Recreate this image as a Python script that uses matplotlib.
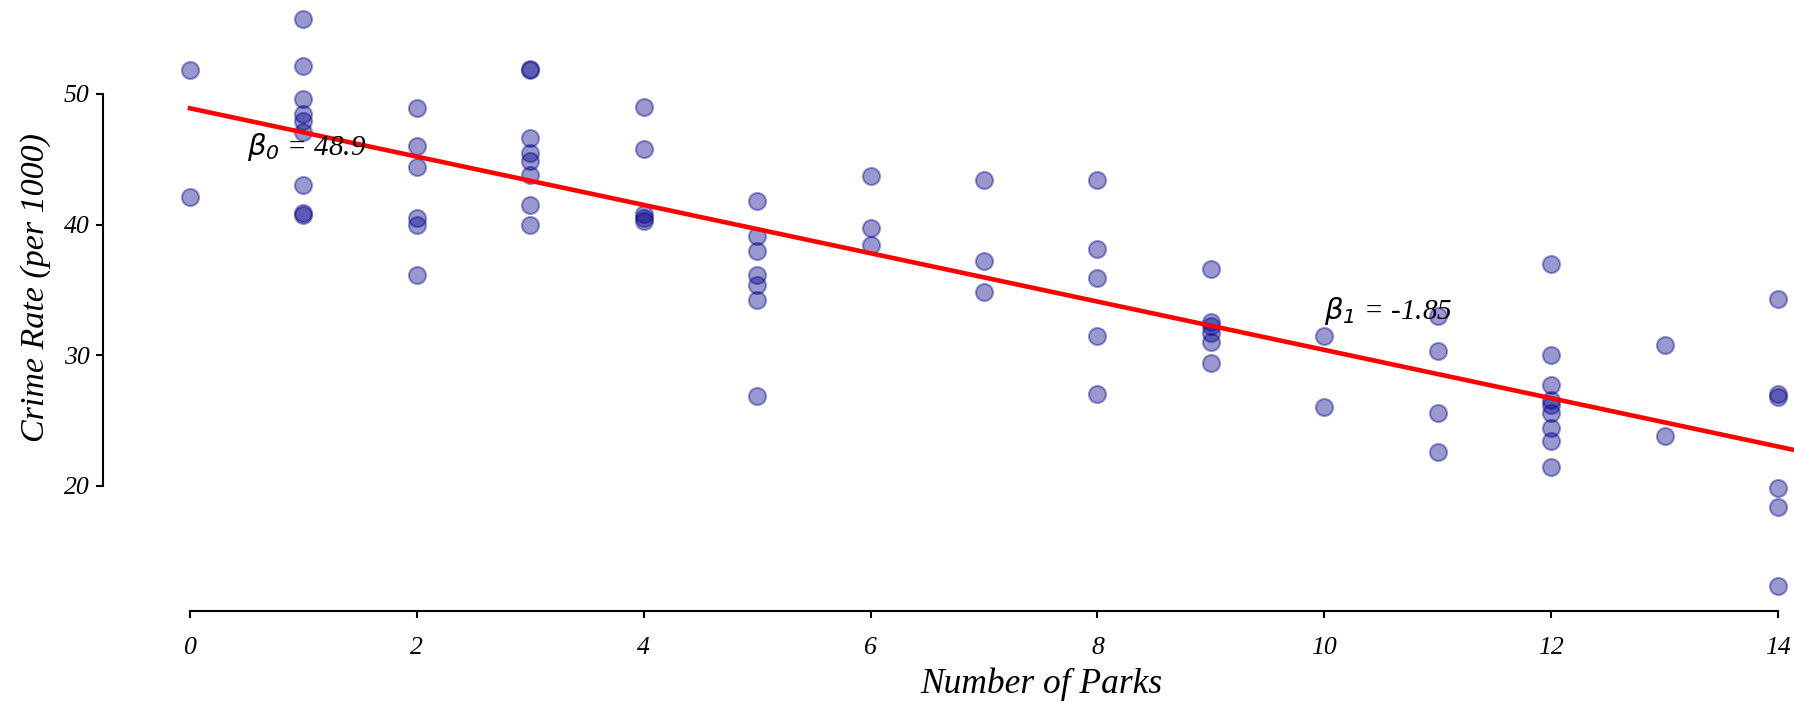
import matplotlib
matplotlib.use('Agg')
import matplotlib.pyplot as plt
import numpy as np

# parks vs crime rate
parks = [0, 0,
         1, 1, 1, 1, 1, 1, 1, 1, 1,
         2, 2, 2, 2, 2, 2,
         3, 3, 3, 3, 3, 3, 3, 3,
         4, 4, 4, 4, 4,
         5, 5, 5, 5, 5, 5, 5,
         6, 6, 6,
         7, 7, 7,
         8, 8, 8, 8, 8,
         9, 9, 9, 9, 9, 9,
         10, 10,
         11, 11, 11, 11,
         12, 12, 12, 12, 12, 12, 12, 12, 12,
         13, 13,
         14, 14, 14, 14, 14, 14]
crime = [51.8, 42.1,
         55.7, 52.1, 49.6, 48.5, 47.9, 47.1, 43.0, 40.9, 40.7,
         48.9, 46.0, 44.4, 40.5, 40.0, 36.1,
         51.8, 51.9, 46.6, 45.5, 44.9, 43.8, 41.5, 40.0,
         49.0, 45.8, 40.8, 40.5, 40.3,
         41.8, 39.1, 38.0, 36.1, 35.4, 34.2, 26.9,
         43.7, 39.7, 38.4,
         43.4, 37.2, 34.8,
         43.4, 38.1, 35.9, 31.5, 27.0,
         36.6, 32.5, 32.2, 31.7, 31.0, 29.4,
         31.5, 26.0,
         33.0, 30.3, 25.6, 22.6,
         37.0, 30.0, 27.7, 26.6, 26.2, 25.6, 24.4, 23.4, 21.4,
         30.8, 23.8,
         34.3, 27.0, 26.8, 19.8, 18.4, 12.3]

# fitted coefficients
B0 = 48.9
B1 = -1.85

xticks = [0, 2, 4, 6, 8, 10, 12, 14]
yticks = [20, 30, 40, 50]

plt.rcParams['font.family'] = ['Liberation Serif', 'DejaVu Serif']
plt.rcParams['font.style'] = 'italic'

fig = plt.figure(figsize=(17.94, 7.02), dpi=100)
ax = fig.add_axes([103/1794, 91/702, 1691/1794, 611/702])

ax.scatter(parks, crime, s=150, color='darkblue', alpha=0.4, linewidths=1.5, clip_on=False, zorder=2)

xl = np.array([0, 15])
ax.plot(xl, B0 + B1*xl, color='red', linewidth=3.3, zorder=3)

ax.text(0.5, 45.3, r'$\beta_0$ = 48.9', fontsize=21, style='italic')
ax.text(10.0, 32.8, r'$\beta_1$ = -1.85', fontsize=21, style='italic')

ax.set_xlim(-0.767, 14.14)
ax.set_ylim(10.41, 57.19)
ax.set_xticks(xticks)
ax.set_yticks(yticks)

for s in ['top', 'right']:
	ax.spines[s].set_visible(False)
ax.spines['left'].set_bounds(20, 50)
ax.spines['bottom'].set_bounds(0, 14)
ax.spines['left'].set_linewidth(1.5)
ax.spines['bottom'].set_linewidth(1.5)
ax.tick_params(axis='both', labelsize=18.5, length=4.7, width=1.5)
ax.tick_params(axis='x', pad=14)
ax.tick_params(axis='y', pad=5)

ax.set_xlabel('Number of Parks', fontsize=25.5)
ax.set_ylabel('Crime Rate (per 1000)', fontsize=24.5)
ax.xaxis.set_label_coords(0.5547, -0.092)
ax.yaxis.set_label_coords(-0.031, 0.530)

fig.savefig('out.png', dpi=100)
